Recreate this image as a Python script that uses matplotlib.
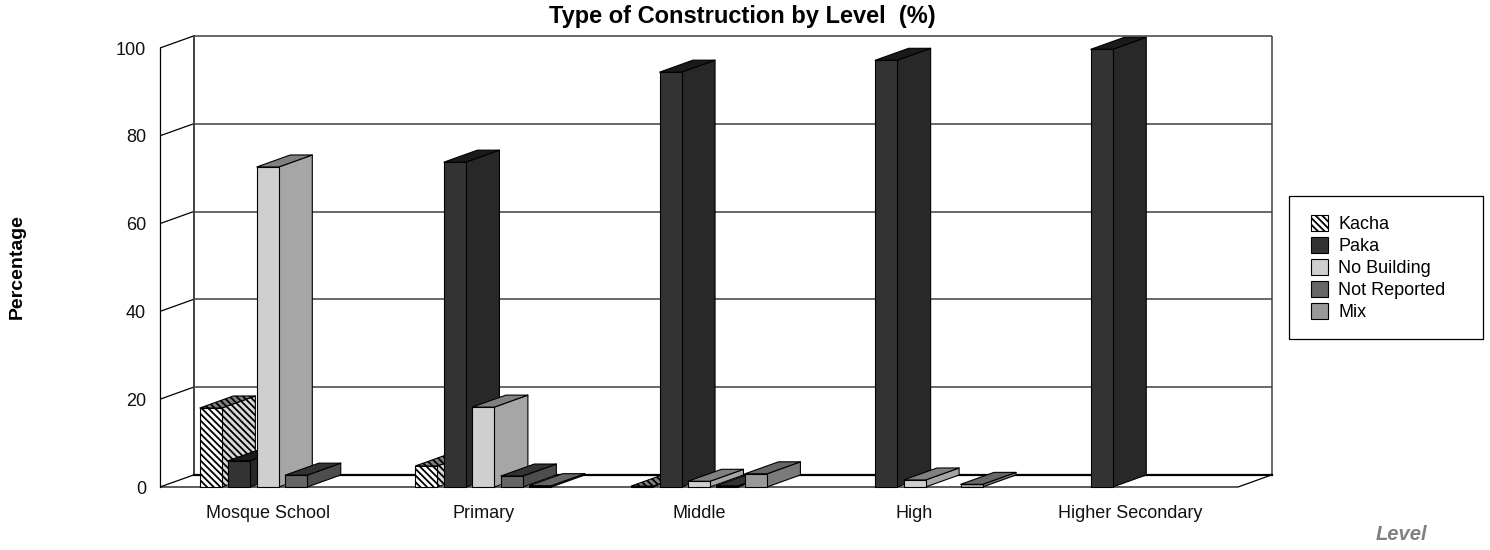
import matplotlib
matplotlib.use('Agg')
import matplotlib.pyplot as plt
from matplotlib.patches import Polygon, Patch, Rectangle

plt.rcParams['font.family'] = ['Liberation Sans', 'DejaVu Sans']
plt.rcParams['hatch.linewidth'] = 1.3

levels = ['Mosque School', 'Primary', 'Middle', 'High', 'Higher Secondary']
kacha = [18.0, 4.8, 0.2, 0, 0]
paka = [6.0, 74.0, 94.5, 97.2, 99.7]
no_building = [72.9, 18.2, 1.3, 1.6, 0]
not_reported = [2.7, 2.5, 0.3, 0, 0]
mix = [0, 0.3, 3.0, 0.6, 0]

series = [kacha, paka, no_building, not_reported, mix]
names = ['Kacha', 'Paka', 'No Building', 'Not Reported', 'Mix']
# front, side, top
shades = [('white', '#d9d9d9', '#808080'),
          ('#333333', '#282828', '#1a1a1a'),
          ('#cfcfcf', '#a6a6a6', '#808080'),
          ('#666666', '#4d4d4d', '#333333'),
          ('#999999', '#7a7a7a', '#666666')]
hatch = '\\' * 5

W, H = 1490, 550
fig = plt.figure(figsize=(W / 100, H / 100), dpi=100)
ax = fig.add_axes([160 / W, 1 - 487 / H, 1078 / W, 439 / H])
ax.set_xlim(-0.5, 4.5)
ax.set_ylim(0, 100)

# fake 3d depth in data units
dx = 33.5 / 215.6
dy = 12 / 4.39
step = 0.132
bw = 0.102

wall = dict(color='black', lw=0.9, clip_on=False, zorder=1, solid_capstyle='butt')
back = dict(color='#404040', lw=1.1, clip_on=False, zorder=1, solid_capstyle='butt')
for g in range(0, 101, 20):
    ax.plot([-0.5, -0.5 + dx], [g, g + dy], **wall)
    if g > 0:
        ax.plot([-0.5 + dx, 4.5 + dx], [g + dy, g + dy], **back)
ax.plot([-0.5 + dx, -0.5 + dx], [dy, 100 + dy], color='#404040', lw=1.4, clip_on=False, zorder=1)
ax.plot([4.5 + dx, 4.5 + dx], [dy, 100 + dy], **back)
ax.plot([-0.5 + dx, 4.5 + dx], [dy, dy], color='black', lw=1.6, clip_on=False, zorder=1)
ax.plot([-0.5, 4.5, 4.5 + dx], [0, 0, dy], **wall)


def draw_bar(x, v, colors, hatched, z):
    x0, x1 = x - bw / 2, x + bw / 2
    faces = [([(x1, 0), (x1 + dx, dy), (x1 + dx, v + dy), (x1, v)], colors[1]),
             ([(x0, v), (x1, v), (x1 + dx, v + dy), (x0 + dx, v + dy)], colors[2]),
             ([(x0, 0), (x1, 0), (x1, v), (x0, v)], colors[0])]
    for pts, c in faces:
        p = Polygon(pts, closed=True, facecolor=c, edgecolor='black', lw=0.8,
                    clip_on=False, zorder=z, joinstyle='round')
        if hatched:
            p.set_hatch(hatch)
        ax.add_patch(p)


z = 2
for i in range(len(levels)):
    for j, vals in enumerate(series):
        if vals[i] > 0:
            draw_bar(i + (j - 2) * step, vals[i], shades[j], j == 0, z)
            z += 1

for s in ['top', 'right', 'bottom']:
    ax.spines[s].set_visible(False)
ax.spines['left'].set_linewidth(0.9)
ax.spines['left'].set_zorder(1)
ax.set_xticks(range(len(levels)))
ax.set_xticklabels(levels, fontsize=13, color='#111111')
ax.tick_params(axis='x', length=0, pad=13)
ax.set_yticks(range(0, 101, 20))
ax.tick_params(axis='y', labelsize=13, labelcolor='#111111', length=0, pad=10)

fig.text(742 / W, 1 - 17 / H, 'Type of Construction by Level  (%)', fontsize=17, fontweight='bold',
         ha='center', va='center')
fig.text(17 / W, 1 - 267 / H, 'Percentage', fontsize=14, fontweight='bold', rotation=90,
         ha='center', va='center')
fig.text(1401 / W, 1 - 534 / H, 'Level', fontsize=14.5, fontweight='bold', fontstyle='italic',
         color='#808080', ha='center', va='center')

fig.add_artist(Rectangle((1289 / W, 1 - 339 / H), 194 / W, 143 / H, transform=fig.transFigure,
                         facecolor='white', edgecolor='black', lw=0.9))
handles = []
for j, n in enumerate(names):
    handles.append(Patch(facecolor=shades[j][0], edgecolor='black', lw=0.8, label=n,
                         hatch=hatch if j == 0 else None))
leg = fig.legend(handles=handles, loc='upper left', frameon=False,
                 bbox_to_anchor=(1288 / W, 1 - 192.5 / H), borderaxespad=0,
                 fontsize=13, handlelength=0.94, handleheight=0.94, handletextpad=0.6,
                 labelspacing=0.23, borderpad=1.25)
leg.set_zorder(5)

fig.savefig('out.png', dpi=100)
